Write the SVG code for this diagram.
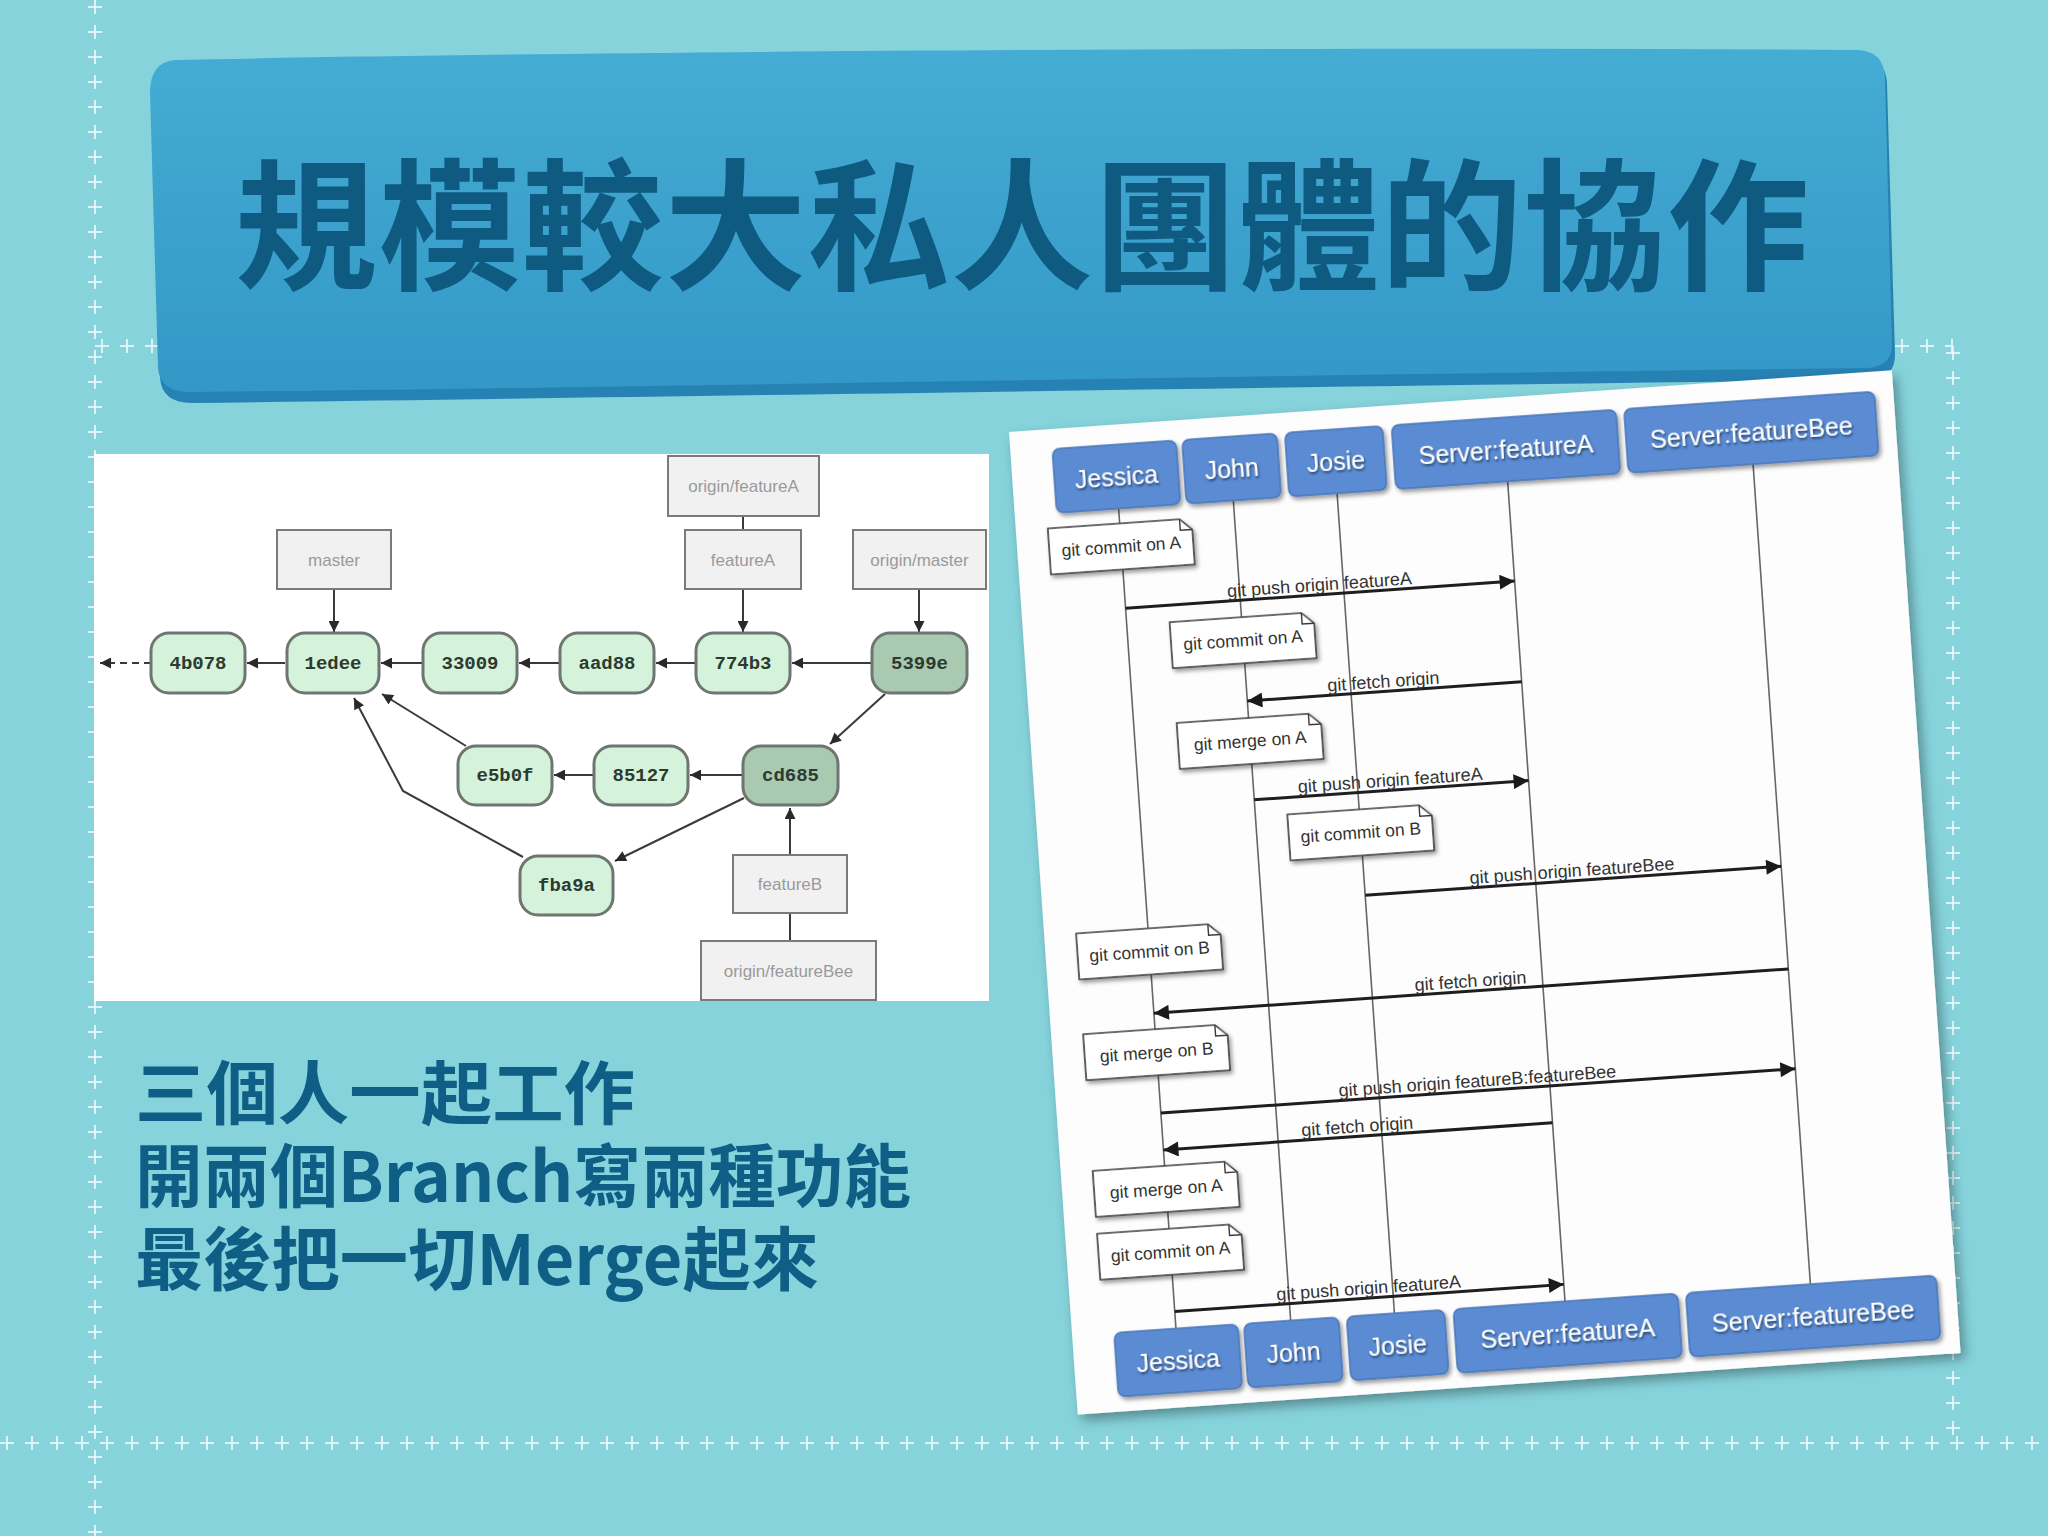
<svg xmlns="http://www.w3.org/2000/svg" width="2048" height="1536" viewBox="0 0 2048 1536">
<style>
.stitch{stroke:#e9f8fa;fill:none;opacity:0.85}
.s1{stroke-width:2;stroke-dasharray:14 11}
.s2{stroke-width:14;stroke-dasharray:2 23;stroke-dashoffset:19}
.gnode{fill:#d5f3da;stroke:#6d7670;stroke-width:3}
.gdark{fill:#a9c9b1;stroke:#6d7670;stroke-width:3}
.gtxt{font-family:"Liberation Mono",monospace;font-weight:bold;font-size:19px;fill:#2c3a30;text-anchor:middle}
.lbl{fill:#f1f1f1;stroke:#7a7a7a;stroke-width:2}
.ltxt{font-family:"Liberation Sans",Arial,sans-serif;font-size:17px;fill:#9a9a9a;text-anchor:middle}
.gline{stroke:#3a3a3a;stroke-width:2;fill:none}
.hbox{fill:#5a8bd3;stroke:#4a76b8;stroke-width:1.5}
.htxt{font-family:"Liberation Sans",Arial,sans-serif;font-size:25px;fill:#ffffff;text-anchor:middle}
.life{stroke:#666;stroke-width:1.6}
.note{fill:#ffffff;stroke:#3a3a3a;stroke-width:1.6}
.ntxt{font-family:"Liberation Sans",Arial,sans-serif;font-size:17.5px;fill:#333;text-anchor:middle}
.msg{stroke:#1e1e1e;stroke-width:3;fill:none}
.mtxt{font-family:"Liberation Sans",Arial,sans-serif;font-size:18px;fill:#333;text-anchor:middle}
.body{font-family:"Noto Sans CJK TC","Noto Sans",sans-serif;font-weight:bold;font-size:69px;fill:#0f5e86}
</style>
<defs>
<linearGradient id="bannerG" x1="0" y1="0" x2="0" y2="1">
<stop offset="0" stop-color="#45acd4"/>
<stop offset="1" stop-color="#3398c6"/>
</linearGradient>
<marker id="ga" viewBox="0 0 10 10" refX="10" refY="5" markerWidth="12" markerHeight="11" markerUnits="userSpaceOnUse" orient="auto">
<path d="M0,0 L10,5 L0,10 z" fill="#2a2a2a"/>
</marker>
<marker id="sa" viewBox="0 0 10 10" refX="10" refY="5" markerWidth="18" markerHeight="15" markerUnits="userSpaceOnUse" orient="auto">
<path d="M0,0 L10,5 L0,10 z" fill="#1a1a1a"/>
</marker>
<filter id="shadow" x="-10%" y="-10%" width="120%" height="120%">
<feDropShadow dx="4" dy="6" stdDeviation="6" flood-color="#000" flood-opacity="0.35"/>
</filter>
<filter id="bshadow" x="-10%" y="-10%" width="130%" height="140%">
<feDropShadow dx="2" dy="3" stdDeviation="2" flood-color="#000" flood-opacity="0.4"/>
</filter>
<filter id="tshadow" x="-10%" y="-20%" width="120%" height="150%">
<feDropShadow dx="1" dy="2" stdDeviation="1.2" flood-color="#1d2d4a" flood-opacity="0.8"/>
</filter>
<path id="noteShape" d="M0,0 H132 L144,11 V46 H0 Z"/>
</defs>

<!-- background -->
<rect x="0" y="0" width="2048" height="1536" fill="#86d3dc"/>

<!-- decorative stitched frame -->
<g id="frame">
<line class="stitch s1" x1="95" y1="0" x2="95" y2="1536"/>
<line class="stitch s2" x1="95" y1="0" x2="95" y2="1536"/>
<line class="stitch s1" x1="0" y1="1443" x2="2048" y2="1443"/>
<line class="stitch s2" x1="0" y1="1443" x2="2048" y2="1443"/>
<line class="stitch s1" x1="95" y1="346" x2="1953" y2="346"/>
<line class="stitch s2" x1="95" y1="346" x2="1953" y2="346"/>
<line class="stitch s1" x1="1953" y1="346" x2="1953" y2="1443"/>
<line class="stitch s2" x1="1953" y1="346" x2="1953" y2="1443"/>
</g>

<!-- title banner -->
<g id="banner">
<path d="M178,68 C500,60 1200,52 1860,56 Q1886,57 1887,84 L1895,355 Q1895,378 1870,380 C1200,388 600,398 192,403 Q162,403 160,378 L152,100 Q152,70 178,68 Z" fill="#2782b4"/>
<path d="M175,60 C500,53 1200,46 1858,50 Q1884,51 1885,78 L1892,345 Q1892,366 1868,368 C1200,376 600,388 190,392 Q160,392 158,368 L150,93 Q150,62 175,60 Z" fill="url(#bannerG)"/>
<text x="235" y="279" font-family="'Noto Sans CJK TC','Noto Sans CJK SC',sans-serif" font-weight="bold" font-size="142" textLength="1574" lengthAdjust="spacing" fill="#0e5a80">規模較大私人團體的協作</text>
</g>

<!-- git graph image -->
<g id="git-graph">
<rect x="94" y="454" width="895" height="547" fill="#ffffff"/>
<g id="git-connectors">
<line class="gline" x1="743" y1="516" x2="743" y2="530"/>
<line class="gline" x1="790" y1="941" x2="790" y2="913"/>
<line class="gline" x1="334" y1="589" x2="334" y2="632" marker-end="url(#ga)"/>
<line class="gline" x1="743" y1="589" x2="743" y2="632" marker-end="url(#ga)"/>
<line class="gline" x1="919" y1="589" x2="919" y2="632" marker-end="url(#ga)"/>
<line class="gline" x1="790" y1="855" x2="790" y2="808" marker-end="url(#ga)"/>
<line class="gline" x1="872" y1="663" x2="792" y2="663" marker-end="url(#ga)"/>
<line class="gline" x1="696" y1="663" x2="656" y2="663" marker-end="url(#ga)"/>
<line class="gline" x1="560" y1="663" x2="519" y2="663" marker-end="url(#ga)"/>
<line class="gline" x1="423" y1="663" x2="381" y2="663" marker-end="url(#ga)"/>
<line class="gline" x1="285" y1="663" x2="247" y2="663" marker-end="url(#ga)"/>
<line class="gline" x1="151" y1="663" x2="100" y2="663" stroke-dasharray="7 5" marker-end="url(#ga)"/>
<line class="gline" x1="743" y1="775" x2="690" y2="775" marker-end="url(#ga)"/>
<line class="gline" x1="594" y1="775" x2="554" y2="775" marker-end="url(#ga)"/>
<line class="gline" x1="466" y1="746" x2="382" y2="694" marker-end="url(#ga)"/>
<line class="gline" x1="885" y1="694" x2="830" y2="744" marker-end="url(#ga)"/>
<line class="gline" x1="744" y1="798" x2="615" y2="861" marker-end="url(#ga)"/>
<polyline class="gline" points="523,857 403,791 354,698" marker-end="url(#ga)"/>
</g>
<g id="lbl-origin-featureA"><rect class="lbl" x="668" y="456" width="151" height="60"/><text class="ltxt" x="743.5" y="492">origin/featureA</text></g>
<g id="lbl-master"><rect class="lbl" x="277" y="530" width="114" height="59"/><text class="ltxt" x="334" y="566">master</text></g>
<g id="lbl-featureA"><rect class="lbl" x="685" y="530" width="116" height="59"/><text class="ltxt" x="743" y="566">featureA</text></g>
<g id="lbl-origin-master"><rect class="lbl" x="853" y="530" width="133" height="59"/><text class="ltxt" x="919.5" y="566">origin/master</text></g>
<g id="lbl-featureB"><rect class="lbl" x="733" y="855" width="114" height="58"/><text class="ltxt" x="790" y="890">featureB</text></g>
<g id="lbl-origin-featureBee"><rect class="lbl" x="701" y="941" width="175" height="59"/><text class="ltxt" x="788.5" y="977">origin/featureBee</text></g>
<g id="c-4b078"><rect class="gnode" x="151" y="633" width="94" height="60" rx="18"/><text class="gtxt" x="198" y="669">4b078</text></g>
<g id="c-1edee"><rect class="gnode" x="287" y="633" width="92" height="60" rx="18"/><text class="gtxt" x="333" y="669">1edee</text></g>
<g id="c-33009"><rect class="gnode" x="423" y="633" width="94" height="60" rx="18"/><text class="gtxt" x="470" y="669">33009</text></g>
<g id="c-aad88"><rect class="gnode" x="560" y="633" width="94" height="60" rx="18"/><text class="gtxt" x="607" y="669">aad88</text></g>
<g id="c-774b3"><rect class="gnode" x="696" y="633" width="94" height="60" rx="18"/><text class="gtxt" x="743" y="669">774b3</text></g>
<g id="c-5399e"><rect class="gdark" x="872" y="633" width="95" height="60" rx="18"/><text class="gtxt" x="919.5" y="669">5399e</text></g>
<g id="c-e5b0f"><rect class="gnode" x="458" y="746" width="94" height="59" rx="18"/><text class="gtxt" x="505" y="781">e5b0f</text></g>
<g id="c-85127"><rect class="gnode" x="594" y="746" width="94" height="59" rx="18"/><text class="gtxt" x="641" y="781">85127</text></g>
<g id="c-cd685"><rect class="gdark" x="743" y="746" width="95" height="59" rx="18"/><text class="gtxt" x="790.5" y="781">cd685</text></g>
<g id="c-fba9a"><rect class="gnode" x="520" y="856" width="93" height="59" rx="18"/><text class="gtxt" x="566.5" y="891">fba9a</text></g>
</g>

<!-- body text -->
<g id="body-text">
<text class="body" x="135" y="1119" textLength="500" lengthAdjust="spacingAndGlyphs">三個人一起工作</text>
<text class="body" x="135" y="1202" textLength="776" lengthAdjust="spacingAndGlyphs">開兩個Branch寫兩種功能</text>
<text class="body" x="135" y="1285" textLength="684" lengthAdjust="spacingAndGlyphs">最後把一切Merge起來</text>
</g>

<!-- sequence diagram image -->
<g id="sequence" transform="translate(1009,432) rotate(-4)">
<rect x="0" y="0" width="885" height="985" fill="#fdfdfd" filter="url(#shadow)"/>
<g id="lifelines">
<line class="life" x1="104" y1="84" x2="104" y2="906"/>
<line class="life" x1="219" y1="84" x2="219" y2="906"/>
<line class="life" x1="323" y1="84" x2="323" y2="906"/>
<line class="life" x1="494" y1="84" x2="494" y2="906"/>
<line class="life" x1="740" y1="84" x2="740" y2="906"/>
</g>
<g id="hdr-top">
<g id="h-jessica"><rect class="hbox" x="42" y="20" width="124" height="64" rx="7" filter="url(#bshadow)"/><text class="htxt" x="104" y="61" filter="url(#tshadow)">Jessica</text></g>
<g id="h-john"><rect class="hbox" x="172" y="20" width="95" height="64" rx="7" filter="url(#bshadow)"/><text class="htxt" x="219.5" y="61" filter="url(#tshadow)">John</text></g>
<g id="h-josie"><rect class="hbox" x="275" y="20" width="98" height="64" rx="7" filter="url(#bshadow)"/><text class="htxt" x="324" y="61" filter="url(#tshadow)">Josie</text></g>
<g id="h-sfa"><rect class="hbox" x="382" y="20" width="225" height="64" rx="7" filter="url(#bshadow)"/><text class="htxt" x="494.5" y="61" filter="url(#tshadow)">Server:featureA</text></g>
<g id="h-sfb"><rect class="hbox" x="615" y="20" width="251" height="64" rx="7" filter="url(#bshadow)"/><text class="htxt" x="740.5" y="61" filter="url(#tshadow)">Server:featureBee</text></g>
</g>
<g id="hdr-bottom">
<g id="b-jessica"><rect class="hbox" x="42" y="906" width="124" height="64" rx="7" filter="url(#bshadow)"/><text class="htxt" x="104" y="947" filter="url(#tshadow)">Jessica</text></g>
<g id="b-john"><rect class="hbox" x="172" y="906" width="95" height="64" rx="7" filter="url(#bshadow)"/><text class="htxt" x="219.5" y="947" filter="url(#tshadow)">John</text></g>
<g id="b-josie"><rect class="hbox" x="275" y="906" width="98" height="64" rx="7" filter="url(#bshadow)"/><text class="htxt" x="324" y="947" filter="url(#tshadow)">Josie</text></g>
<g id="b-sfa"><rect class="hbox" x="382" y="906" width="225" height="64" rx="7" filter="url(#bshadow)"/><text class="htxt" x="494.5" y="947" filter="url(#tshadow)">Server:featureA</text></g>
<g id="b-sfb"><rect class="hbox" x="615" y="906" width="251" height="64" rx="7" filter="url(#bshadow)"/><text class="htxt" x="740.5" y="947" filter="url(#tshadow)">Server:featureBee</text></g>
</g>
<g id="notes">
<g id="n1" transform="translate(32,99)"><use href="#noteShape" class="note" filter="url(#bshadow)"/><path d="M132,0 V11 H144" fill="none" stroke="#3a3a3a" stroke-width="1.4"/><text class="ntxt" x="72" y="29">git commit on A</text></g>
<g id="n2" transform="translate(147,201)"><use href="#noteShape" class="note" filter="url(#bshadow)"/><path d="M132,0 V11 H144" fill="none" stroke="#3a3a3a" stroke-width="1.4"/><text class="ntxt" x="72" y="29">git commit on A</text></g>
<g id="n3" transform="translate(147,302)"><use href="#noteShape" class="note" filter="url(#bshadow)"/><path d="M132,0 V11 H144" fill="none" stroke="#3a3a3a" stroke-width="1.4"/><text class="ntxt" x="72" y="29">git merge on A</text></g>
<g id="n4" transform="translate(251,401)"><use href="#noteShape" class="note" filter="url(#bshadow)"/><path d="M132,0 V11 H144" fill="none" stroke="#3a3a3a" stroke-width="1.4"/><text class="ntxt" x="72" y="29">git commit on B</text></g>
<g id="n5" transform="translate(32,505)"><use href="#noteShape" class="note" filter="url(#bshadow)"/><path d="M132,0 V11 H144" fill="none" stroke="#3a3a3a" stroke-width="1.4"/><text class="ntxt" x="72" y="29">git commit on B</text></g>
<g id="n6" transform="translate(32,606)"><use href="#noteShape" class="note" filter="url(#bshadow)"/><path d="M132,0 V11 H144" fill="none" stroke="#3a3a3a" stroke-width="1.4"/><text class="ntxt" x="72" y="29">git merge on B</text></g>
<g id="n7" transform="translate(32,743)"><use href="#noteShape" class="note" filter="url(#bshadow)"/><path d="M132,0 V11 H144" fill="none" stroke="#3a3a3a" stroke-width="1.4"/><text class="ntxt" x="72" y="29">git merge on A</text></g>
<g id="n8" transform="translate(32,806)"><use href="#noteShape" class="note" filter="url(#bshadow)"/><path d="M132,0 V11 H144" fill="none" stroke="#3a3a3a" stroke-width="1.4"/><text class="ntxt" x="72" y="29">git commit on A</text></g>
</g>
<g id="messages">
<line class="msg" x1="104" y1="184" x2="494" y2="184" marker-end="url(#sa)"/>
<text class="mtxt" x="299" y="180">git push origin featureA</text>
<line class="msg" x1="494" y1="285" x2="219" y2="285" marker-end="url(#sa)"/>
<text class="mtxt" x="356" y="281">git fetch origin</text>
<line class="msg" x1="219" y1="384" x2="494" y2="384" marker-end="url(#sa)"/>
<text class="mtxt" x="356" y="380">git push origin featureA</text>
<line class="msg" x1="323" y1="487" x2="740" y2="487" marker-end="url(#sa)"/>
<text class="mtxt" x="531" y="483">git push origin featureBee</text>
<line class="msg" x1="740" y1="590" x2="104" y2="590" marker-end="url(#sa)"/>
<text class="mtxt" x="422" y="586">git fetch origin</text>
<line class="msg" x1="104" y1="690" x2="740" y2="690" marker-end="url(#sa)"/>
<text class="mtxt" x="422" y="686">git push origin featureB:featureBee</text>
<line class="msg" x1="494" y1="727" x2="104" y2="727" marker-end="url(#sa)"/>
<text class="mtxt" x="299" y="723">git fetch origin</text>
<line class="msg" x1="104" y1="889" x2="494" y2="889" marker-end="url(#sa)"/>
<text class="mtxt" x="299" y="885">git push origin featureA</text>
</g>
</g>
</svg>
